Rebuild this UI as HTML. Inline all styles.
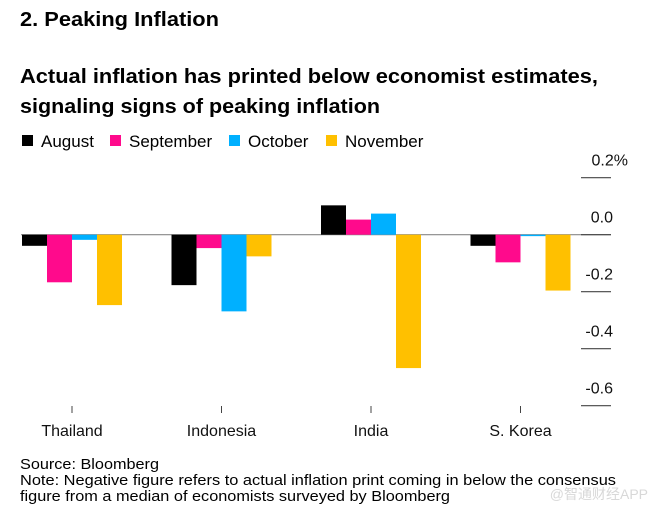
<!DOCTYPE html>
<html><head><meta charset="utf-8"><style>
html,body{margin:0;padding:0;background:#fff;}
svg{display:block;font-family:"Liberation Sans","Noto Sans CJK SC",sans-serif;}
</style></head><body>
<svg id="chart" width="652" height="513" viewBox="0 0 652 513" xmlns="http://www.w3.org/2000/svg">
<text x="20" y="26" font-size="20" font-weight="bold" textLength="199" lengthAdjust="spacingAndGlyphs">2. Peaking Inflation</text>
<text x="20" y="83" font-size="20" font-weight="bold" textLength="578" lengthAdjust="spacingAndGlyphs">Actual inflation has printed below economist estimates,</text>
<text x="20" y="113" font-size="20" font-weight="bold" textLength="360" lengthAdjust="spacingAndGlyphs">signaling signs of peaking inflation</text>
<g id="legend"></g>
<g id="axis"></g>
<g id="bars"></g>
<g id="xaxis"></g>
<text x="20" y="469" font-size="15" textLength="139" lengthAdjust="spacingAndGlyphs">Source: Bloomberg</text>
<text x="20" y="485" font-size="15" textLength="596" lengthAdjust="spacingAndGlyphs">Note: Negative figure refers to actual inflation print coming in below the consensus</text>
<text x="20" y="501" font-size="15" textLength="430" lengthAdjust="spacingAndGlyphs">figure from a median of economists surveyed by Bloomberg</text>
<text x="648" y="499" font-size="14" fill="#d8d8d8" text-anchor="end">@智通财经APP</text>
</svg>
<script>
const categories = ["Thailand", "Indonesia", "India", "S. Korea"];
const seriesNames = ["August", "September", "October", "November"];
const august = [-0.039, -0.177, 0.103, -0.039];
const september = [-0.167, -0.047, 0.053, -0.097];
const october = [-0.018, -0.269, 0.074, -0.005];
const november = [-0.247, -0.076, -0.468, -0.196];
const tickValues = [0.2, 0.0, -0.2, -0.4, -0.6];
const tickLabels = ["0.2%", "0.0", "-0.2", "-0.4", "-0.6"];

const colors = ["#000000", "#ff0a8c", "#00b0ff", "#ffc000"];
const series = [august, september, october, november];
const NS = "http://www.w3.org/2000/svg";
const y0 = 234.7, pxPerUnit = 285;
function yScale(v){ return y0 - v * pxPerUnit; }
const groupStart = 22, groupStep = 149.5, barW = 25;
function xScale(ci, si){ return groupStart + ci * groupStep + si * barW; }
function mk(tag, attrs, parent){ const e = document.createElementNS(NS, tag); for (const k in attrs) e.setAttribute(k, attrs[k]); parent.appendChild(e); return e; }

const legend = document.getElementById('legend');
const legX = [22, 110, 229, 326];
seriesNames.forEach((n, i) => {
  const r = mk('rect', {x: legX[i], y: 135, width: 11, height: 11, fill: colors[i]}, legend);
  
  
  const t = mk('text', {x: legX[i] + 19, y: 147, 'font-size': 17}, legend);
  t.textContent = n;
  
  
});

const bars = document.getElementById('bars');
categories.forEach((c, ci) => {
  series.forEach((s, si) => {
    const v = s[ci];
    const ya = yScale(v), yb = yScale(0);
    const b = mk('rect', {x: xScale(ci, si), y: Math.min(ya, yb), width: barW, height: Math.abs(ya - yb), fill: colors[si]}, bars);
    
    
  });
});

const axis = document.getElementById('axis');
const zl = mk('line', {x1: 21, x2: 611, y1: yScale(0), y2: yScale(0), stroke: '#888', 'stroke-width': 1.2}, axis);


tickValues.forEach((v, i) => {
  const y = yScale(v);
  const l = mk('line', {x1: 581, x2: 611, y1: y, y2: y, stroke: '#444', 'stroke-width': 1.2}, axis);
  
  
  const t = mk('text', {x: i === 0 ? 628 : 613, y: y - 12, 'font-size': 16, 'text-anchor': 'end', fill: '#111'}, axis);
  t.textContent = tickLabels[i];
  
  
});

const xaxis = document.getElementById('xaxis');
categories.forEach((c, ci) => {
  const cx = xScale(ci, 2);
  const l = mk('line', {x1: cx, x2: cx, y1: 406, y2: 413, stroke: '#444', 'stroke-width': 1}, xaxis);
  
  
  const t = mk('text', {x: cx, y: 436, 'font-size': 16, 'text-anchor': 'middle', fill: '#111'}, xaxis);
  t.textContent = c;
  
  
});
</script>
</body></html>
